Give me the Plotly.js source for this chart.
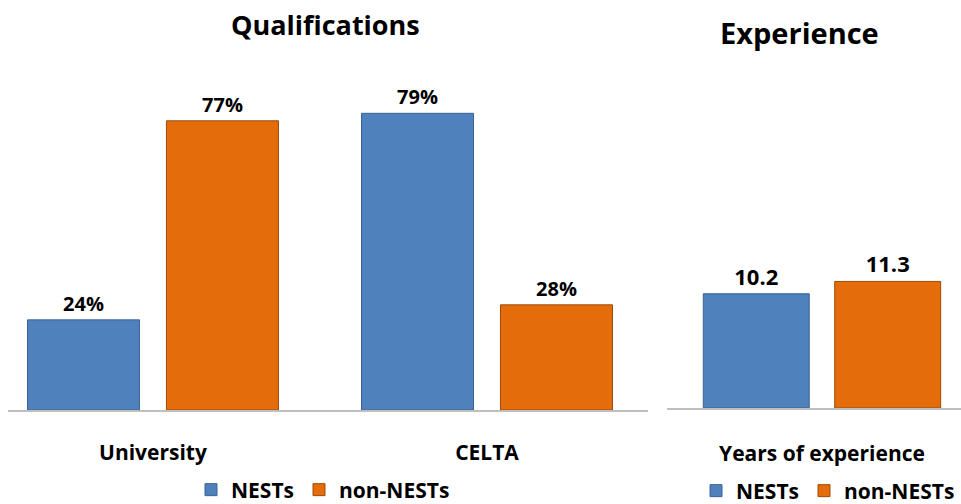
<!DOCTYPE html>
<html><head><meta charset="utf-8">
<script src="https://cdn.plot.ly/plotly-3.0.1.min.js"></script>
<style>html,body{margin:0;padding:0;background:#fff}#chart{width:961px;height:504px}</style>
</head><body><div id="chart"></div>
<script>
const qualCategories = ['University', 'CELTA'];
const qualNESTs = [24, 79];
const qualNonNESTs = [77, 28];
const expCategories = ['Years of experience'];
const expNESTs = [10.2];
const expNonNESTs = [11.3];
const seriesNames = ['NESTs', 'non-NESTs'];

const FONT = '"Open Sans", sans-serif';
const BLUE = '#4f81bd', ORANGE = '#e46c0a';
const BLUE_LINE = '#3a6395', ORANGE_LINE = '#9e4a08';
const textfontL = {family: FONT, size: 20, color: '#000', weight: 'bold'};
const textfontR = {family: FONT, size: 22, color: '#000', weight: 'bold'};

const traces = [
  {type:'bar', x: qualCategories, y: qualNESTs, name: seriesNames[0], xaxis:'x', yaxis:'y', legend:'legend',
   marker:{color:BLUE, line:{color:BLUE_LINE, width:1}}, texttemplate:'%{y}%', textposition:'outside', textfont:textfontL, cliponaxis:false, hoverinfo:'skip'},
  {type:'bar', x: qualCategories, y: qualNonNESTs, name: seriesNames[1], xaxis:'x', yaxis:'y', legend:'legend',
   marker:{color:ORANGE, line:{color:ORANGE_LINE, width:1}}, texttemplate:'%{y}%', textposition:'outside', textfont:textfontL, cliponaxis:false, hoverinfo:'skip'},
  {type:'bar', x: expCategories, y: expNESTs, name: seriesNames[0], xaxis:'x2', yaxis:'y2', legend:'legend2',
   marker:{color:BLUE, line:{color:BLUE_LINE, width:1}}, texttemplate:'%{y}', textposition:'outside', textfont:textfontR, cliponaxis:false, hoverinfo:'skip'},
  {type:'bar', x: expCategories, y: expNonNESTs, name: seriesNames[1], xaxis:'x2', yaxis:'y2', legend:'legend2',
   marker:{color:ORANGE, line:{color:ORANGE_LINE, width:1}}, texttemplate:'%{y}', textposition:'outside', textfont:textfontR, cliponaxis:false, hoverinfo:'skip'}
];

const W = 961, H = 504;
const tickfont = {family: FONT, size: 21, color: '#000', weight: 'bold'};
const legendFont = {family: FONT, size: 21, color: '#000', weight: 'bold'};

const layout = {
  width: W, height: H,
  margin: {l:0, r:0, t:0, b:0, autoexpand:false},
  paper_bgcolor: '#fff', plot_bgcolor: '#fff',
  barmode: 'group', bargap: 0.168, bargroupgap: 0.194,
  showlegend: true,
  xaxis: {domain:[8/W, 648/W], range:[-0.434, 1.482], showline:true, linecolor:'#bfbfbf', linewidth:1.5,
          ticks:'', showgrid:false, zeroline:false, tickfont, ticklabelstandoff: 23, fixedrange:true, automargin:false},
  yaxis: {domain:[(H-410)/H, (H-72)/H], range:[0, 90], visible:false, fixedrange:true},
  xaxis2: {domain:[667/W, 1], range:[-0.4905, 0.44], showline:true, linecolor:'#bfbfbf', linewidth:1.5,
          ticks:'', showgrid:false, zeroline:false, tickfont, ticklabelstandoff: 26, fixedrange:true, anchor:'y2', automargin:false},
  yaxis2: {domain:[(H-408)/H, (H-72)/H], range:[0, 30], visible:false, fixedrange:true, anchor:'x2'},
  legend: {orientation:'h', x:323/W, xanchor:'center', y:(H-490)/H, yanchor:'middle', font: legendFont,
           itemwidth:30, tracegroupgap:0, bgcolor:'rgba(0,0,0,0)', borderwidth:0, maxheight:1},
  legend2: {orientation:'h', x:828/W, xanchor:'center', y:(H-491)/H, yanchor:'middle', font: legendFont,
           itemwidth:30, tracegroupgap:0, bgcolor:'rgba(0,0,0,0)', borderwidth:0, maxheight:1},
  annotations: [
    {text:'Qualifications', xref:'paper', yref:'paper', x:325/W, y:(H-24)/H, xanchor:'center', yanchor:'middle', showarrow:false,
     font:{family:FONT, size:27, color:'#000', weight:'bold'}},
    {text:'Experience', xref:'paper', yref:'paper', x:799/W, y:(H-33)/H, xanchor:'center', yanchor:'middle', showarrow:false,
     font:{family:FONT, size:29, color:'#000', weight:'bold'}}
  ]
};

Plotly.newPlot('chart', traces, layout, {displayModeBar:false, staticPlot:true});
</script></body></html>
